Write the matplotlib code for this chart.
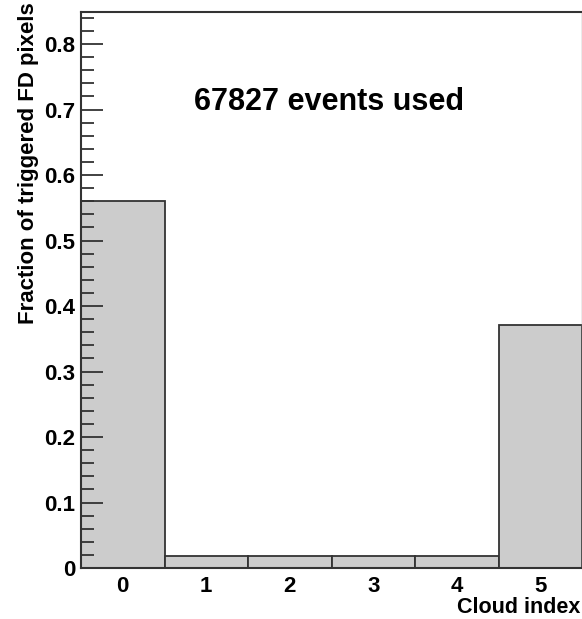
import numpy as np
import matplotlib.pyplot as plt
from matplotlib.ticker import MultipleLocator

plt.rcParams['font.family'] = ['Liberation Sans', 'DejaVu Sans']
plt.rcParams['font.weight'] = 'bold'

# cloud index histogram, normalised
cloud_index = [0, 1, 2, 3, 4, 5]
fraction = [0.560, 0.019, 0.019, 0.019, 0.019, 0.371]
n_events = 67827
y_ticks = [0, 0.1, 0.2, 0.3, 0.4, 0.5, 0.6, 0.7, 0.8]
y_tick_labels = ['0', '0.1', '0.2', '0.3', '0.4', '0.5', '0.6', '0.7', '0.8']

fig = plt.figure(figsize=(5.82, 6.19), dpi=100)
ax = fig.add_axes([81 / 582, 1 - 568 / 619, 501 / 582, 556 / 619])

ax.bar(cloud_index, fraction, width=1.0, color='#cccccc',
       edgecolor='#333333', linewidth=1.3)

ax.set_xlim(-0.5, 5.5)
ax.set_ylim(0, 0.849)
ax.set_xticks(cloud_index)
ax.tick_params(axis='x', length=0, pad=6, labelsize=16)
ax.set_yticks(y_ticks)
ax.set_yticklabels(y_tick_labels)
ax.yaxis.set_minor_locator(MultipleLocator(0.02))
ax.tick_params(axis='y', which='major', direction='in', length=16,
               width=1.3, color='#333333', labelsize=16, pad=4)
ax.tick_params(axis='y', which='minor', direction='in', length=9,
               width=1.3, color='#333333')

for side in ['left', 'bottom', 'top']:
    ax.spines[side].set_linewidth(1.5)
    ax.spines[side].set_color('#333333')
ax.spines['right'].set_color('#999999')
ax.spines['right'].set_linewidth(1.0)

ax.set_xlabel('Cloud index', fontsize=15.5, fontweight='bold')
ax.xaxis.set_label_coords(0.996, -0.052)
ax.xaxis.label.set_horizontalalignment('right')
ax.set_ylabel('Fraction of triggered FD pixels', fontsize=16, fontweight='bold')
ax.yaxis.set_label_coords(-0.084, 1.017)
ax.yaxis.label.set_horizontalalignment('right')

ax.text(0.495, 0.838, '%d events used' % n_events, transform=ax.transAxes,
        ha='center', va='center', fontsize=22, fontweight='bold')

fig.savefig('out.png', dpi=100)
